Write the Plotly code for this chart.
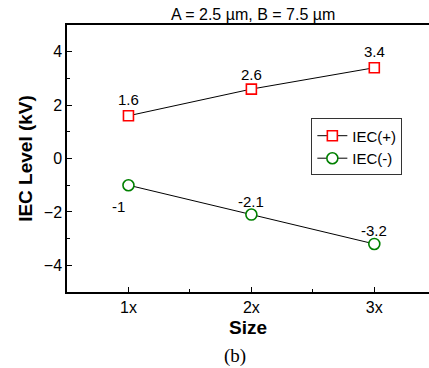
import plotly.graph_objects as go

# Device size multiples and measured ESD levels
sizes = ["1x", "2x", "3x"]
size_pos = [1, 2, 3]
iec_pos = [1.6, 2.6, 3.4]
iec_neg = [-1.0, -2.1, -3.2]

FONT = "Liberation Sans, Arial, sans-serif"

fig = go.Figure()

fig.add_trace(go.Scatter(
    x=size_pos, y=iec_pos, mode="lines+markers", name="IEC(+)",
    line=dict(color="black", width=1),
    marker=dict(symbol="square", size=10, color="white",
                line=dict(color="#ff0000", width=1.6)),
))
fig.add_trace(go.Scatter(
    x=size_pos, y=iec_neg, mode="lines+markers", name="IEC(-)",
    line=dict(color="black", width=1),
    marker=dict(symbol="circle", size=11, color="white",
                line=dict(color="#008000", width=1.6)),
))

# value labels next to each point (x shift, y shift in px)
offsets_pos = [(0, 16), (0, 15), (0, 16)]
offsets_neg = [(-10, -21), (0, 13), (0, 13)]
for xs, ys, offs in ((size_pos, iec_pos, offsets_pos), (size_pos, iec_neg, offsets_neg)):
    for xv, yv, (dx, dy) in zip(xs, ys, offs):
        fig.add_annotation(x=xv, y=yv, xref="x", yref="y", text=f"{yv:g}",
                           showarrow=False, xshift=dx, yshift=dy,
                           font=dict(family=FONT, size=15, color="black"))

fig.add_annotation(x=0.515, y=1, xref="paper", yref="paper", yanchor="bottom",
                   yshift=0, text="A = 2.5 µm, B = 7.5 µm", showarrow=False,
                   font=dict(family=FONT, size=16, color="black"))
fig.add_annotation(x=0.463, y=0, xref="paper", yref="paper", yanchor="middle",
                   yshift=-64, text="(b)", showarrow=False,
                   font=dict(family="Liberation Serif, Times New Roman, serif",
                             size=19, color="black"))

axis_common = dict(
    showgrid=False, zeroline=False, showline=True, linecolor="black",
    linewidth=1.5, ticks="inside", ticklen=5, tickwidth=1, tickcolor="black",
    tickfont=dict(family=FONT, size=16, color="black"),
)

fig.update_layout(
    width=429, height=368,
    margin=dict(l=67, r=0, t=25, b=76),
    plot_bgcolor="white", paper_bgcolor="white",
    showlegend=True,
    legend=dict(x=0.675, y=0.65, xanchor="left", yanchor="top",
                bgcolor="white", bordercolor="#333333", borderwidth=1,
                font=dict(family=FONT, size=15, color="black"),
                tracegroupgap=0, itemwidth=30),
    xaxis=dict(
        **axis_common, range=[0.5, 3.445], mirror=True,
        tickmode="array", tickvals=size_pos, ticktext=sizes,
        minor=dict(tickmode="array", tickvals=[1.5, 2.5], ticks="inside",
                   ticklen=3, tickcolor="black"),
        title=dict(text="<b>Size</b>", standoff=6,
                   font=dict(family=FONT, size=19, color="black")),
    ),
    yaxis=dict(
        **axis_common, range=[-5, 5], dtick=2, tick0=0,
        minor=dict(dtick=1, tick0=1, ticks="inside", ticklen=3, tickcolor="black"),
        title=dict(text="<b>IEC Level (kV)</b>", standoff=6,
                   font=dict(family=FONT, size=19, color="black")),
    ),
)

fig.write_html("out.html")
